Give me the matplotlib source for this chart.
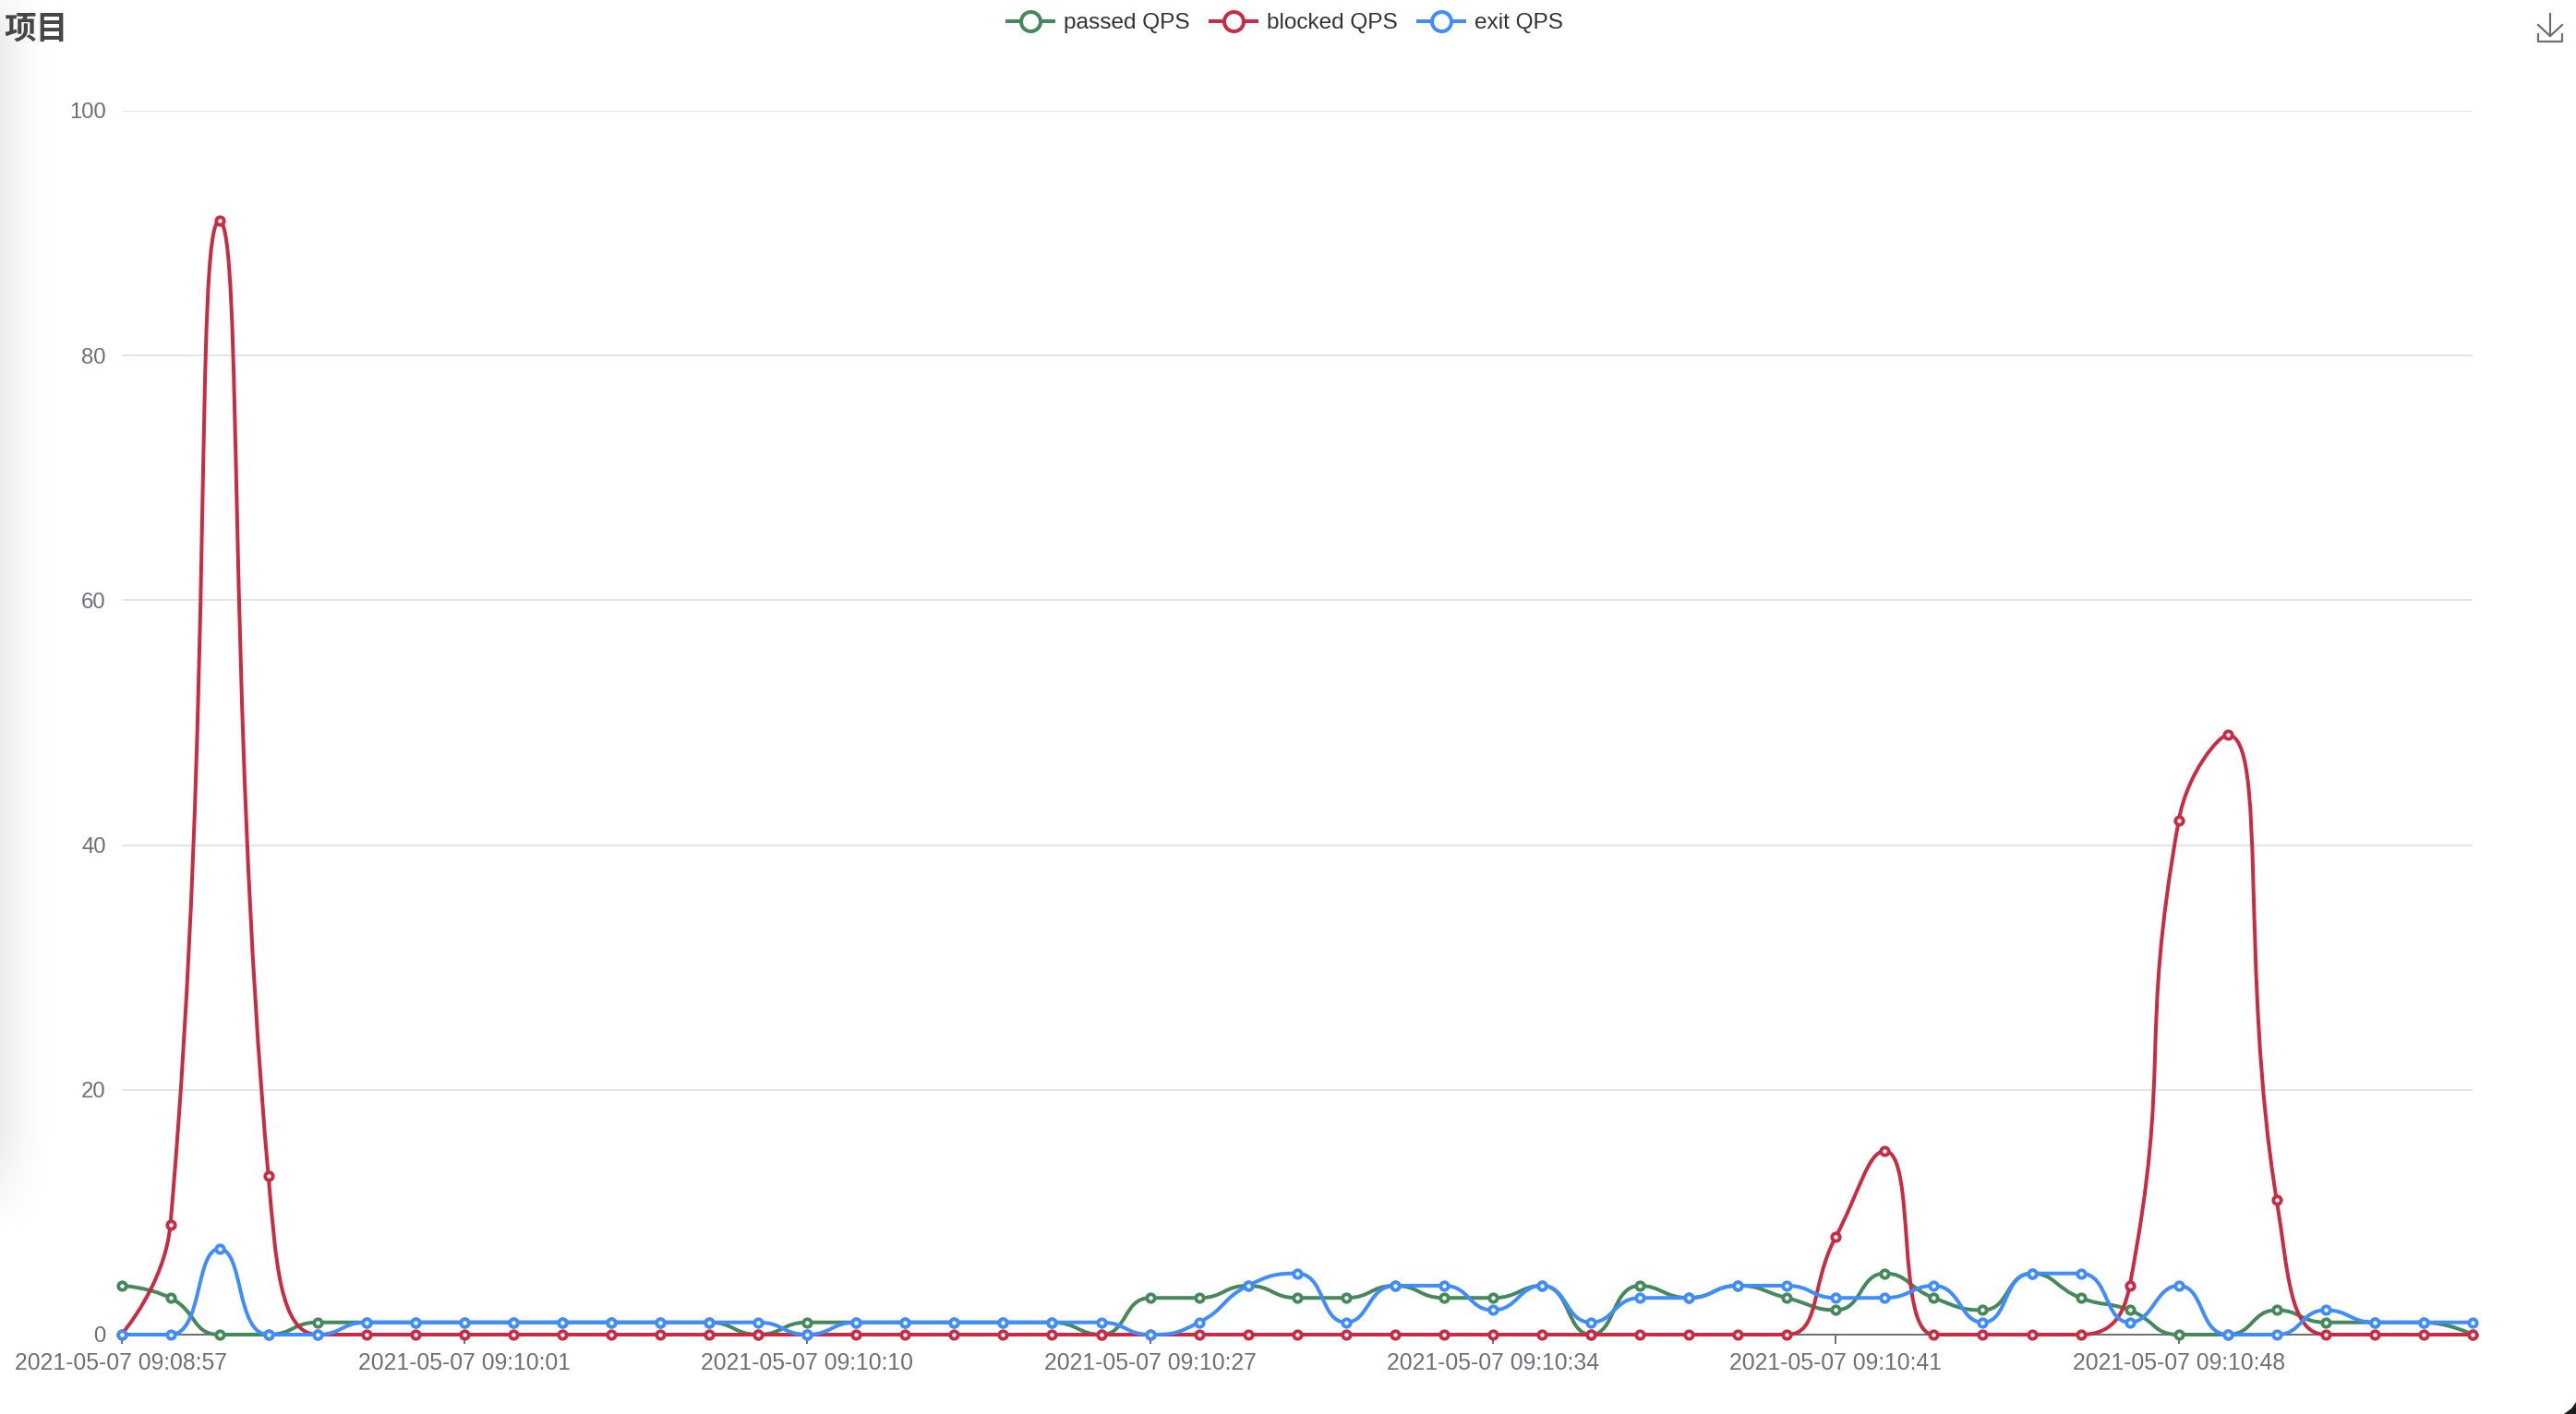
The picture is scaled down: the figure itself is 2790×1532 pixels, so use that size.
import numpy as np
import matplotlib
matplotlib.use("Agg")
import matplotlib.pyplot as plt
from matplotlib.lines import Line2D
from matplotlib.patches import PathPatch, Polygon
from matplotlib.path import Path

# Data, one value per timestamp
passed_qps = [4, 3, 0, 0, 1, 1, 1, 1, 1, 1, 1, 1, 1, 0, 1, 1, 1, 1, 1, 1, 0, 3, 3, 4, 3,
              3, 4, 3, 3, 4, 0, 4, 3, 4, 3, 2, 5, 3, 2, 5, 3, 2, 0, 0, 2, 1, 1, 1, 0]
blocked_qps = [0, 9, 91, 13, 0, 0, 0, 0, 0, 0, 0, 0, 0, 0, 0, 0, 0, 0, 0, 0, 0, 0, 0, 0, 0,
               0, 0, 0, 0, 0, 0, 0, 0, 0, 0, 8, 15, 0, 0, 0, 0, 4, 42, 49, 11, 0, 0, 0, 0]
exit_qps = [0, 0, 7, 0, 0, 1, 1, 1, 1, 1, 1, 1, 1, 1, 0, 1, 1, 1, 1, 1, 1, 0, 1, 4, 5,
            1, 4, 4, 2, 4, 1, 3, 3, 4, 4, 3, 3, 4, 1, 5, 5, 1, 4, 0, 0, 2, 1, 1, 1]
x_tick_labels = ["2021-05-07 09:08:57", "2021-05-07 09:10:01", "2021-05-07 09:10:10",
                 "2021-05-07 09:10:27", "2021-05-07 09:10:34", "2021-05-07 09:10:41",
                 "2021-05-07 09:10:48"]
y_ticks = [0, 20, 40, 60, 80, 100]
series_names = ["passed QPS", "blocked QPS", "exit QPS"]

GREEN = "#45885a"
RED = "#c92c42"
BLUE = "#3f8cff"
AXIS = "#6e7079"

W, H = 2790, 1532
LEFT, RIGHT, TOP, BOTTOM = 131.5, 2678, 120, 1446
PX = 72 / 100  # points per pixel at dpi 100

plt.rcParams["font.family"] = ["Liberation Sans", "Noto Sans CJK SC"]


def smooth_path(ax, xs, ys, smooth=0.5):
    # same control point logic as an echarts smooth line, worked out in pixels
    pts = ax.transData.transform(np.column_stack([xs, ys]))
    n = len(pts)
    cp_out = pts.copy()
    cp_in = pts.copy()
    for i in range(1, n - 1):
        p = pts[i]
        prev, nxt = pts[i - 1], pts[i + 1]
        v = nxt - prev
        len_prev = np.hypot(*(p - prev))
        len_next = np.hypot(*(nxt - p))
        ratio = len_next / (len_next + len_prev)
        out = p + v * smooth * ratio
        out = np.clip(out, np.minimum(nxt, p), np.maximum(nxt, p))
        back = p - (out - p) * len_prev / len_next
        back = np.clip(back, np.minimum(prev, p), np.maximum(prev, p))
        out = p + (p - back) * len_next / len_prev
        cp_in[i] = back
        cp_out[i] = out
    verts = [pts[0]]
    codes = [Path.MOVETO]
    for i in range(n - 1):
        verts += [cp_out[i], cp_in[i + 1], pts[i + 1]]
        codes += [Path.CURVE4] * 3
    return Path(ax.transData.inverted().transform(np.array(verts)), codes)


fig = plt.figure(figsize=(W / 100, H / 100), dpi=100, facecolor="white")

# Soft grey shadow down the left edge of the screenshot
ax_bg = fig.add_axes([0, 0, 70 / W, 1], zorder=-1)
gx = np.linspace(0, 1, 70)
gy = np.arange(H)
fade = np.clip((1340 - gy) / 110, 0, 1) * np.clip((gy + 30) / 70, 0, 1)
ax_bg.imshow(1 - 0.075 * np.outer(fade, (1 - gx) ** 2), cmap="gray", vmin=0, vmax=1, aspect="auto")
ax_bg.axis("off")

ax = fig.add_axes([LEFT / W, 1 - BOTTOM / H, (RIGHT - LEFT) / W, (BOTTOM - TOP) / H])
ax.patch.set_alpha(0)

idx = np.arange(len(passed_qps))
ax.set_xlim(0, len(idx) - 1)
ax.set_ylim(0, 100)

for values, color, zo in [(passed_qps, GREEN, 3), (blocked_qps, RED, 4), (exit_qps, BLUE, 5)]:
    ax.add_patch(PathPatch(smooth_path(ax, idx, values), fc="none", ec=color, lw=4 * PX,
                           zorder=zo, clip_on=False, capstyle="round", joinstyle="round"))
    ax.plot(idx, values, ls="none", marker="o", ms=8.4 * PX, mew=3.8 * PX, mec=color, mfc="white",
            zorder=zo, clip_on=False)

ax.set_xticks(idx[::7])
ax.set_xticklabels(x_tick_labels)
ax.set_yticks(y_ticks)
ax.tick_params(axis="x", length=10 * PX, width=2 * PX, color=AXIS, labelcolor=AXIS,
               labelsize=17.8, pad=6.5)
ax.tick_params(axis="y", length=0, labelcolor=AXIS, labelsize=17.2, pad=12)
ax.grid(True, axis="y", color="#e0e6f1", lw=2 * PX)
ax.set_axisbelow(True)
for side in ["top", "left", "right"]:
    ax.spines[side].set_visible(False)
ax.spines["bottom"].set_color(AXIS)
ax.spines["bottom"].set_linewidth(2 * PX)

# Legend
handles = [Line2D([], [], color=c, lw=4 * PX, marker="o", ms=21 * PX, mew=4 * PX, mec=c, mfc="white")
           for c in [GREEN, RED, BLUE]]
fig.legend(handles, series_names, loc="center", bbox_to_anchor=(1392 / W, 1 - 25 / H), ncol=3,
           frameon=False, fontsize=17.6, labelcolor="#333333", handlelength=2.05, handletextpad=0.45,
           columnspacing=0.9, borderpad=0, borderaxespad=0)

fig.text(4 / W, 1 - 31 / H, "项目", fontsize=25, fontweight="bold", color="#464646",
         family=["Noto Sans CJK SC", "DejaVu Sans"], va="center", ha="left")

# Save-as-image icon, top right
icon = [[(2762, 15), (2762, 39)], [(2749, 27), (2762, 39), (2775, 27)],
        [(2749, 37), (2749, 45), (2775, 45), (2775, 37)]]
for part in icon:
    px, py = zip(*part)
    fig.add_artist(Line2D(np.array(px) / W, 1 - np.array(py) / H, color="#6e6e6e", lw=2.2 * PX))

# Rounded window corner, bottom right
corner = [(W, H), (W - 13, H), (W - 9, H - 3), (W - 5, H - 6), (W - 2, H - 10), (W, H - 13)]
fig.add_artist(Polygon([(a / W, 1 - b / H) for a, b in corner], closed=True, fc="#1c1c1f", ec="none",
                       transform=fig.transFigure))

fig.savefig("out.png", dpi=100)
